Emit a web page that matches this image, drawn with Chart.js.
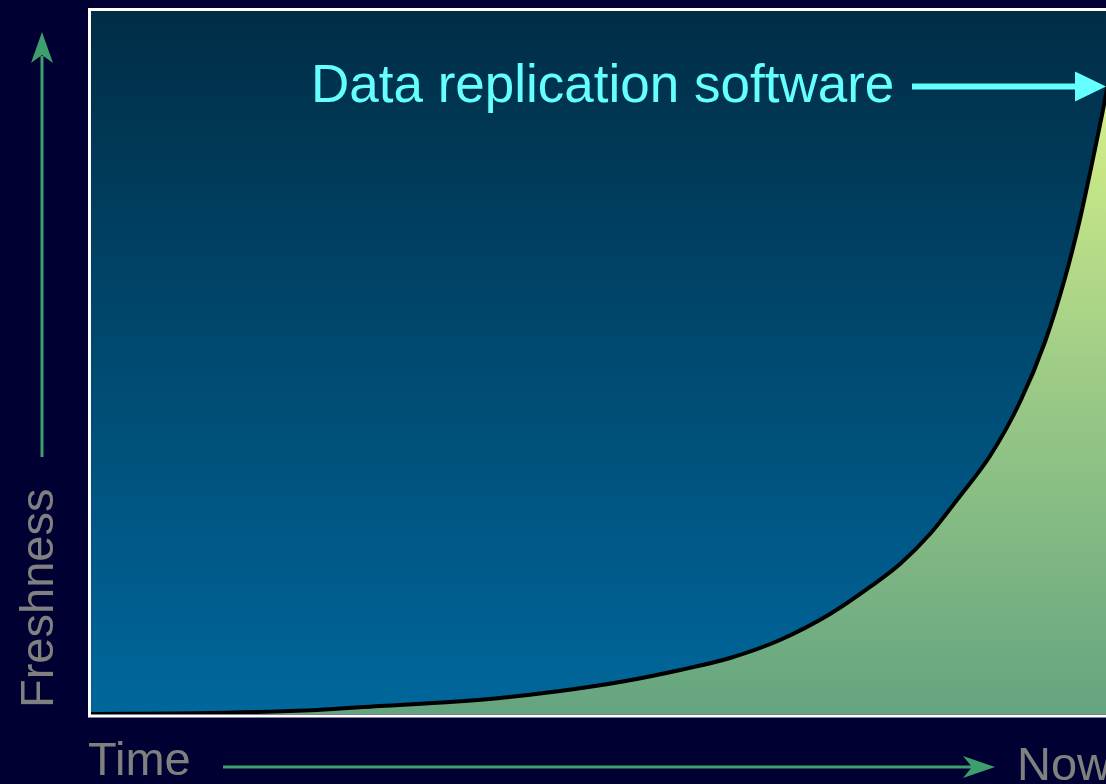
<!DOCTYPE html>
<html>
<head>
<meta charset="utf-8">
<script src="https://cdn.jsdelivr.net/npm/chart.js@4.4.1/dist/chart.umd.min.js"></script>
<style>
  html, body { margin: 0; padding: 0; background: #000033; overflow: hidden; }
  body { width: 1106px; height: 784px; position: relative; font-family: 'Liberation Sans', Arial, sans-serif; }
  #wrap { position: absolute; left: 0; top: 0; width: 1160px; height: 784px; }
  canvas { display: block; }
  .lbl { position: absolute; white-space: nowrap; line-height: 1; }
</style>
</head>
<body>
<div id="wrap"><canvas id="freshness-chart" width="1160" height="784"></canvas></div>
<div class="lbl" style="left:311px; top:57px; font-size:53px; color:#66ffff;">Data replication software</div>
<div class="lbl" style="left:88px; top:735px; font-size:47px; color:#808080;">Time</div>
<div class="lbl" style="left:1017px; top:740px; font-size:47px; color:#808080;">Now</div>
<div class="lbl" style="left:13px; top:708px; font-size:47px; color:#808080; transform-origin:0 0; transform:rotate(-90deg);">Freshness</div>
<script>
// time (0-100) and freshness (0-100)
const timeValues = [0, 11.34, 21.54, 27.55, 34.22, 38.99, 44.71, 50.43, 56.17, 60.91, 65.68, 70.45, 74.26, 77.12, 79.98, 82.84, 85.70, 88.56, 90.94, 92.85, 94.28, 95.71, 96.76, 98.09];
const freshnessValues = [0, 0.14, 0.57, 1.14, 1.71, 2.28, 3.27, 4.55, 6.26, 7.97, 10.53, 14.22, 18.07, 21.34, 25.6, 31.01, 36.7, 44.38, 52.92, 62.02, 70.41, 80.37, 88.19, 99.86];

const points = timeValues.map((t, i) => ({ x: t, y: freshnessValues[i] }));

// plot background gradient + white frame + arrows
const plotBackground = {
  id: 'plotBackground',
  beforeDraw(chart) {
    const { ctx, chartArea: a } = chart;
    const g = ctx.createLinearGradient(0, a.top, 0, a.bottom);
    g.addColorStop(0, '#002d46');
    g.addColorStop(1, '#00679c');
    ctx.save();
    ctx.fillStyle = g;
    ctx.fillRect(a.left, a.top, a.right - a.left, a.bottom - a.top);
    ctx.restore();
  },
  afterDraw(chart) {
    const { ctx, chartArea: a } = chart;
    ctx.save();
    ctx.strokeStyle = '#ffffff';
    ctx.lineWidth = 3;
    ctx.strokeRect(a.left - 1.5, a.top - 1.5, a.right - a.left + 3, a.bottom - a.top + 3.5);

    // cyan pointer arrow
    ctx.strokeStyle = '#66ffff';
    ctx.fillStyle = '#66ffff';
    ctx.lineWidth = 6;
    ctx.beginPath();
    ctx.moveTo(912, 86.5);
    ctx.lineTo(1080, 86.5);
    ctx.stroke();
    ctx.beginPath();
    ctx.moveTo(1106, 86.5);
    ctx.lineTo(1075, 71.5);
    ctx.lineTo(1075, 101.5);
    ctx.closePath();
    ctx.fill();

    // green axis arrows
    ctx.strokeStyle = '#3d9e6e';
    ctx.fillStyle = '#3d9e6e';
    ctx.lineWidth = 3;
    ctx.beginPath();
    ctx.moveTo(42, 457);
    ctx.lineTo(42, 56);
    ctx.stroke();
    ctx.beginPath();
    ctx.moveTo(42, 32);
    ctx.lineTo(31, 63);
    ctx.lineTo(42, 55);
    ctx.lineTo(53, 63);
    ctx.closePath();
    ctx.fill();

    ctx.beginPath();
    ctx.moveTo(223, 767);
    ctx.lineTo(972, 767);
    ctx.stroke();
    ctx.beginPath();
    ctx.moveTo(995, 767);
    ctx.lineTo(963, 756);
    ctx.lineTo(972, 767);
    ctx.lineTo(963, 778);
    ctx.closePath();
    ctx.fill();
    ctx.restore();
  },
};

const ctx = document.getElementById('freshness-chart').getContext('2d');
new Chart(ctx, {
  type: 'line',
  data: {
    datasets: [{
      label: 'Freshness',
      data: points,
      borderColor: '#000000',
      borderWidth: 4,
      pointRadius: 0,
      cubicInterpolationMode: 'monotone',
      fill: 'origin',
      backgroundColor: (c) => {
        const a = c.chart.chartArea;
        if (!a) return '#88c088';
        const g = c.chart.ctx.createLinearGradient(0, a.top + 80, 0, a.bottom);
        g.addColorStop(0, '#d6f088');
        g.addColorStop(0.5, '#98c886');
        g.addColorStop(1, '#64a480');
        return g;
      },
    }],
  },
  options: {
    responsive: false,
    animation: false,
    events: [],
    layout: { padding: { left: 91, top: 11, right: 20, bottom: 70 } },
    plugins: { legend: { display: false }, tooltip: { enabled: false } },
    scales: {
      x: { type: 'linear', min: 0, max: 100, display: false },
      y: { min: 0, max: 100, display: false },
    },
  },
  plugins: [plotBackground],
});
</script>
</body>
</html>
